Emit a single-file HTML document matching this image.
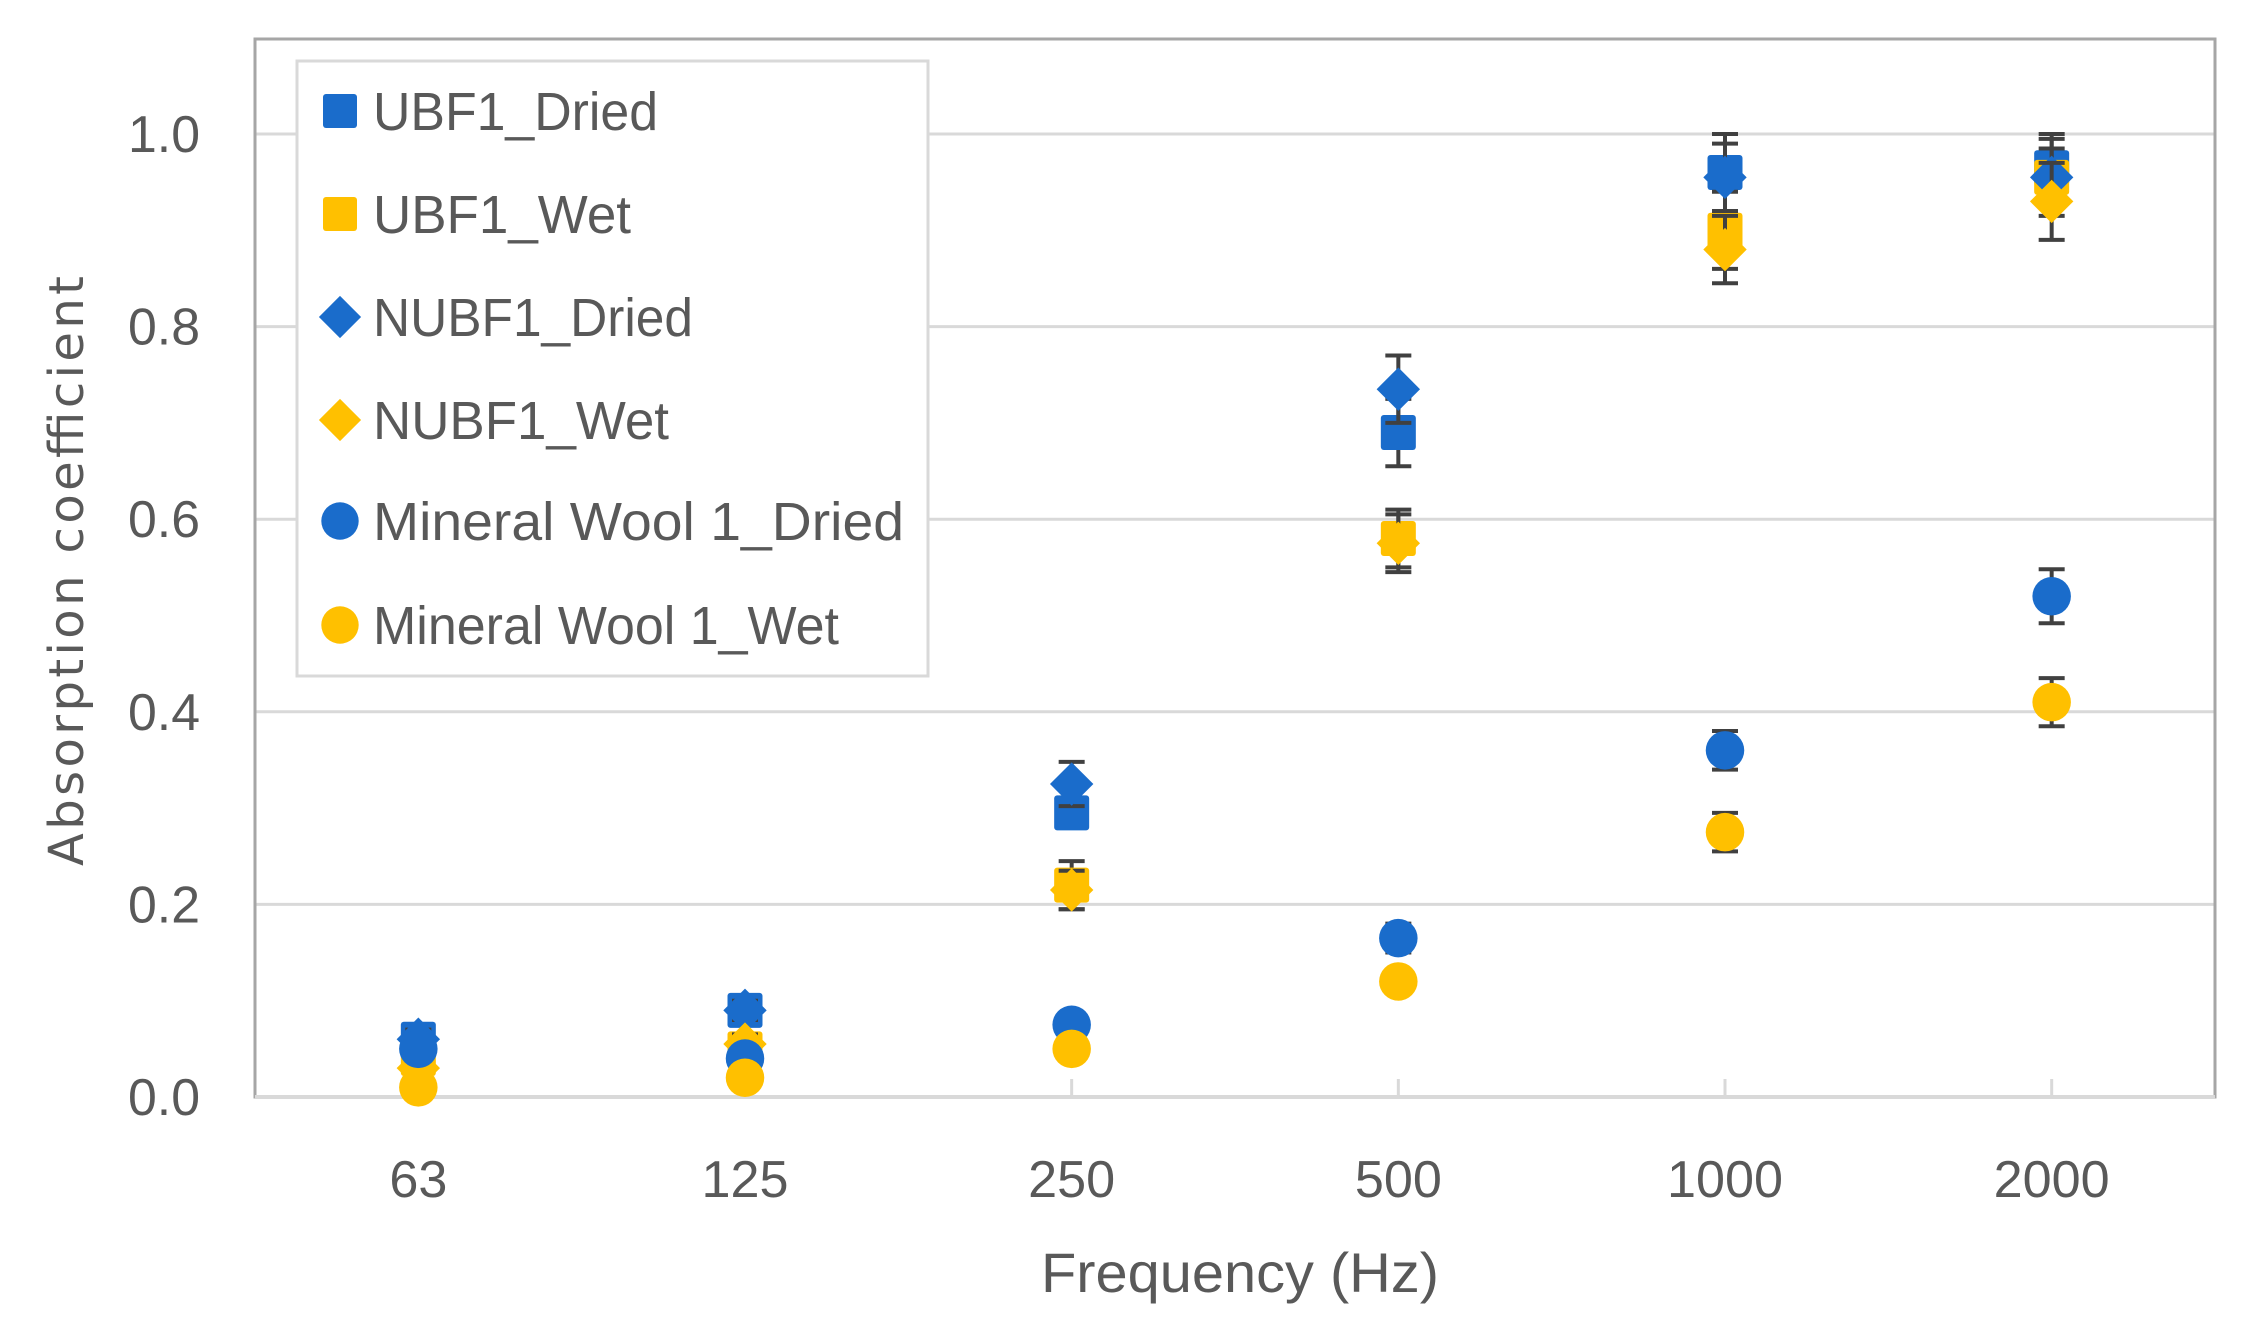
<!DOCTYPE html>
<html><head><meta charset="utf-8"><style>
html,body{margin:0;padding:0;background:#fff;}
svg{display:block;}
</style></head><body>
<svg id="chart" width="2257" height="1325" viewBox="0 0 2257 1325" xmlns="http://www.w3.org/2000/svg">
<rect x="0" y="0" width="2257" height="1325" fill="#fff"/>
<g id="grid"></g>
<rect x="255" y="39" width="1960" height="1058" fill="none" stroke="#a6a6a6" stroke-width="3"/>
<g id="axes"></g>
<g id="series"></g>
<g id="legend"></g>
<text x="1240" y="1292" font-family="'Liberation Sans',sans-serif" font-size="56" fill="#595959" text-anchor="middle" textLength="398" lengthAdjust="spacingAndGlyphs">Frequency (Hz)</text>
<text transform="translate(83,571) rotate(-90)" x="0" y="0" font-family="'DejaVu Sans',sans-serif" font-size="48" fill="#595959" text-anchor="middle" textLength="590">Absorption coefficient</text>
</svg>
<script>
const categories = ["63","125","250","500","1000","2000"];
const yTicks = [0,0.2,0.4,0.6,0.8,1.0];
const yTickLabels = ["0.0","0.2","0.4","0.6","0.8","1.0"];
const seriesNames = ["UBF1_Dried","UBF1_Wet","NUBF1_Dried","NUBF1_Wet","Mineral Wool 1_Dried","Mineral Wool 1_Wet"];
const ubf1Dried = [0.06,0.09,0.295,0.69,0.96,0.965];
const ubf1Wet = [0.04,0.05,0.22,0.58,0.90,0.955];
const nubf1Dried = [0.06,0.09,0.325,0.735,0.955,0.955];
const nubf1Wet = [0.03,0.055,0.215,0.575,0.88,0.93];
const mwDried = [0.05,0.04,0.075,0.165,0.36,0.52];
const mwWet = [0.01,0.02,0.05,0.12,0.275,0.41];
const ubf1DriedErr = [0.01,0.01,0.015,0.035,0.04,0.035];
const ubf1WetErr = [0.01,0.01,0.025,0.03,0.04,0.03];
const nubf1DriedErr = [0.01,0.01,0.023,0.035,0.035,0.04];
const nubf1WetErr = [0.01,0.01,0.02,0.03,0.035,0.04];
const mwDriedErr = [0.005,0.005,0.008,0.015,0.02,0.028];
const mwWetErr = [0.005,0.005,0.005,0.01,0.02,0.025];

const NS="http://www.w3.org/2000/svg";
const L=255,R=2215,T=39,B=1097;
const y0=1097,y1=134;
function xPos(i){return L+(R-L)/categories.length*(i+0.5);}
function yPos(v){return y0-(y0-y1)*v;}
function mk(tag,attrs,parent){const e=document.createElementNS(NS,tag);for(const k in attrs)e.setAttribute(k,attrs[k]);parent.appendChild(e);return e;}

const grid=document.getElementById('grid');
yTicks.forEach((t,i)=>{
  if(t>0){const g=mk('line',{x1:L,x2:R,y1:yPos(t),y2:yPos(t),stroke:'#d9d9d9','stroke-width':3},grid);
  
  }
});
const axes=document.getElementById('axes');
const xa=mk('line',{x1:L,x2:R,y1:B,y2:B,stroke:'#d9d9d9','stroke-width':4},axes);


yTicks.forEach((t,i)=>{
  const tx=mk('text',{x:200,y:yPos(t)+18,'font-family':"'Liberation Sans',sans-serif",'font-size':52,fill:'#595959','text-anchor':'end',textLength:72,lengthAdjust:'spacingAndGlyphs'},axes);
  tx.textContent=yTickLabels[i];
  
  
});
categories.forEach((c,i)=>{
  const tk=mk('line',{x1:xPos(i),x2:xPos(i),y1:B-18,y2:B,stroke:'#d9d9d9','stroke-width':3},axes);
  
  
  const tx=mk('text',{x:xPos(i),y:1197,'font-family':"'Liberation Sans',sans-serif",'font-size':52,fill:'#595959','text-anchor':'middle',textLength:c.length*29,lengthAdjust:'spacingAndGlyphs'},axes);
  tx.textContent=c;
  
  
});

const BLUE='#1a6ccb',YEL='#ffc000';
const defs=[
 {vals:ubf1Dried,err:ubf1DriedErr,color:BLUE,shape:'square'},
 {vals:ubf1Wet,err:ubf1WetErr,color:YEL,shape:'square'},
 {vals:nubf1Dried,err:nubf1DriedErr,color:BLUE,shape:'diamond'},
 {vals:nubf1Wet,err:nubf1WetErr,color:YEL,shape:'diamond'},
 {vals:mwDried,err:mwDriedErr,color:BLUE,shape:'circle'},
 {vals:mwWet,err:mwWetErr,color:YEL,shape:'circle'}
];
function marker(shape,cx,cy,color,parent,s){
  let e;
  if(shape==='square') e=mk('rect',{x:cx-s/2,y:cy-s/2,width:s,height:s,rx:3,fill:color},parent);
  else if(shape==='diamond'){const h=s*0.62;e=mk('polygon',{points:`${cx},${cy-h} ${cx+h},${cy} ${cx},${cy+h} ${cx-h},${cy}`,fill:color},parent);}
  else e=mk('circle',{cx:cx,cy:cy,r:s*0.55,fill:color},parent);
  return e;
}
const sg=document.getElementById('series');
defs.forEach((d,si)=>{
  const g=mk('g',{},sg);
  
  
  d.vals.forEach((v,i)=>{
    const cx=xPos(i),hi=yPos(v+d.err[i]),lo=yPos(v-d.err[i]);
    const eb=mk('path',{d:`M${cx},${hi}V${lo}M${cx-13},${hi}H${cx+13}M${cx-13},${lo}H${cx+13}`,stroke:'#404040','stroke-width':4,fill:'none'},g);
    
    
    const m=marker(d.shape,cx,yPos(v),d.color,g,35);
    
    
  });
});

const lg=document.getElementById('legend');
const lb=mk('rect',{x:297,y:61,width:631,height:615,fill:'#fff',stroke:'#d9d9d9','stroke-width':3},lg);


const legendY=[111,214,317,420,521,625];
const legendW=[285,258,320,296,531,466];
defs.forEach((d,si)=>{
  const g=mk('g',{},lg);
  
  
  marker(d.shape,340,legendY[si],d.color,g,34);
  const t=mk('text',{x:373,y:legendY[si]+19,'font-family':"'Liberation Sans',sans-serif",'font-size':54,fill:'#595959',textLength:legendW[si],lengthAdjust:'spacingAndGlyphs'},g);
  t.textContent=seriesNames[si];
});
</script>
</body></html>
